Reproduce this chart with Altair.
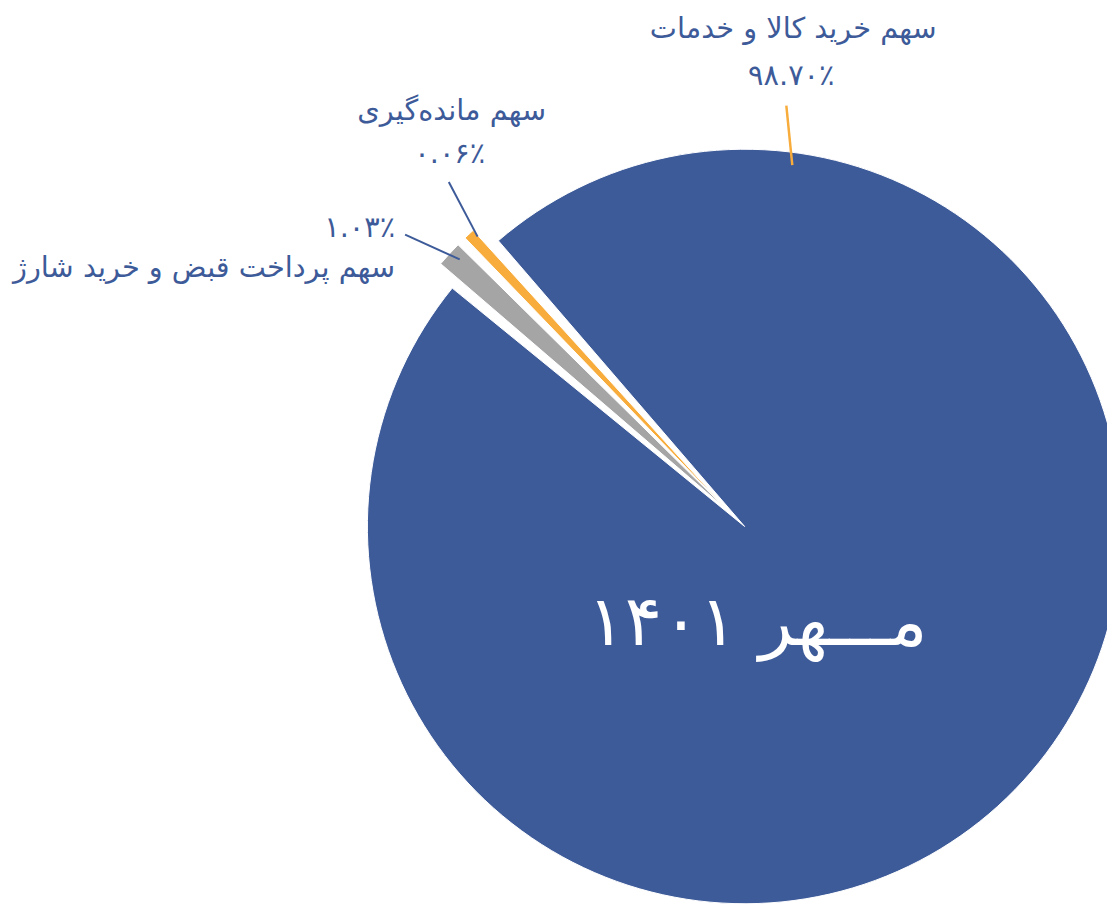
import math
import altair as alt
import pandas as pd

# ---- data ----
categories = ["سهم خرید کالا و خدمات", "سهم پرداخت قبض و خرید شارژ", "سهم مانده\u200cگیری"]
share_labels = ["۹۸.۷۰٪", "۱.۰۳٪", "۰.۰۶٪"]
slice_sizes = [97.62, 1.50, 0.88]          # slice sizes as drawn in the picture
slice_group = ["main", "exploded", "exploded"]
slice_order = [0, 1, 2]
title_text = "مـــهر ۱۴۰۱"

colors = ["#3D5A99", "#A5A5A5", "#F8AC3B"]
text_blue = "#3D5A99"
font = "DejaVu Sans"

df = pd.DataFrame({
    "name": categories,
    "size": slice_sizes,
    "group": slice_group,
    "idx": slice_order,
})

start = math.radians(318.5)
theta_scale = alt.Scale(range=[start, start + 2 * math.pi])

W, H = 1107, 898
R = 380

base = alt.Chart(df).mark_arc(
    radius=R, padAngle=0.026, stroke="white", strokeWidth=1
).encode(
    theta=alt.Theta("size:Q", stack=True, scale=theta_scale),
    color=alt.Color("name:N", scale=alt.Scale(domain=categories, range=colors), legend=None),
    order=alt.Order("idx:Q"),
)

main_arc = base.encode(
    x=alt.value(742), y=alt.value(519),
    opacity=alt.condition(alt.datum.group == "main", alt.value(1), alt.value(0)),
)
expl_arc = base.encode(
    x=alt.value(724), y=alt.value(502),
    opacity=alt.condition(alt.datum.group == "exploded", alt.value(1), alt.value(0)),
)

one = pd.DataFrame({"k": [0]})

def txt(s, x, y, size=29, color=text_blue, align="center"):
    return alt.Chart(one).mark_text(
        text=s, font=font, fontSize=size, color=color, align=align, baseline="middle"
    ).encode(x=alt.value(x), y=alt.value(y))

def rule(x1, y1, x2, y2, color, w=2):
    return alt.Chart(one).mark_rule(color=color, strokeWidth=w).encode(
        x=alt.value(x1), y=alt.value(y1), x2=alt.value(x2), y2=alt.value(y2)
    )

layers = [
    main_arc, expl_arc,
    txt(categories[0], 791, 18), txt(share_labels[0], 789, 65),
    rule(784, 95, 790, 155, "#F8AC3B", 2.5),
    txt(categories[2], 447, 101), txt(share_labels[2], 445, 144),
    rule(444, 172, 473, 227, text_blue),
    txt(share_labels[1], 390, 218, align="right"), txt(categories[1], 390, 259, align="right"),
    rule(400, 225, 455, 250, text_blue),
    txt(title_text, 755, 617, size=70, color="white"),
]

chart = alt.layer(*layers).properties(
    width=W, height=H, padding=0, autosize="none"
).configure_view(stroke=None)

chart.save("out.html", embed_options={"renderer": "svg", "actions": False})
